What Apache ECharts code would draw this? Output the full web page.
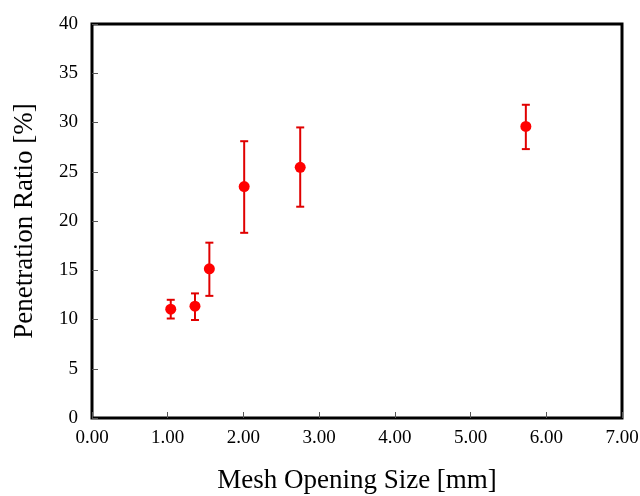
<!DOCTYPE html>
<html>
<head>
<meta charset="utf-8">
<script src="https://cdn.jsdelivr.net/npm/echarts@6/dist/echarts.min.js"></script>
<style>html,body{margin:0;padding:0;background:#fff}#c{width:640px;height:496px}</style>
</head>
<body>
<div id="c"></div>
<script>
var meshSize = [1.04, 1.36, 1.55, 2.01, 2.75, 5.73];
var ratio = [11.05, 11.35, 15.15, 23.5, 25.45, 29.6];
var errLow = [10.1, 9.95, 12.4, 18.8, 21.45, 27.3];
var errHigh = [12.0, 12.65, 17.8, 28.1, 29.5, 31.8];
var xTicks = [0, 1, 2, 3, 4, 5, 6, 7];
var yTicks = [0, 5, 10, 15, 20, 25, 30, 35, 40];

var font = '"Liberation Serif", "Times New Roman", serif';
var chart = echarts.init(document.getElementById('c'));
chart.setOption({
  animation: false,
  grid: {left: 92, right: 18, top: 24, bottom: 78, containLabel: false, outerBoundsMode: 'none',
         show: true, borderColor: '#000', borderWidth: 3, backgroundColor: 'transparent'},
  xAxis: {
    type: 'value', min: xTicks[0], max: xTicks[xTicks.length-1], interval: 1,
    name: 'Mesh Opening Size [mm]', nameLocation: 'middle', nameGap: 49,
    nameTextStyle: {fontFamily: font, fontSize: 27, color: '#000'},
    axisLine: {show: false},
    axisTick: {show: true, inside: true, length: 6, lineStyle: {color: '#555', width: 1}},
    splitLine: {show: false},
    axisLabel: {fontFamily: font, fontSize: 19, color: '#000', margin: 11, formatter: function(v){return v.toFixed(2);}}
  },
  yAxis: {
    type: 'value', min: yTicks[0], max: yTicks[yTicks.length-1], interval: 5,
    name: 'Penetration Ratio [%]', nameLocation: 'middle', nameGap: 54,
    nameTextStyle: {fontFamily: font, fontSize: 27, color: '#000'},
    axisLine: {show: false},
    axisTick: {show: true, inside: true, length: 6, lineStyle: {color: '#555', width: 1}},
    splitLine: {show: false},
    axisLabel: {fontFamily: font, fontSize: 19, color: '#000', margin: 14}
  },
  series: [
    {
      type: 'custom',
      data: meshSize.map(function(x, i){ return [x, errLow[i], errHigh[i]]; }),
      renderItem: function(params, api){
        var lo = api.coord([api.value(0), api.value(1)]);
        var hi = api.coord([api.value(0), api.value(2)]);
        var w = 4;
        var st = {stroke: '#e00000', lineWidth: 2};
        return {type: 'group', children: [
          {type: 'line', shape: {x1: lo[0], y1: lo[1], x2: hi[0], y2: hi[1]}, style: st},
          {type: 'line', shape: {x1: lo[0]-w, y1: lo[1], x2: lo[0]+w, y2: lo[1]}, style: st},
          {type: 'line', shape: {x1: hi[0]-w, y1: hi[1], x2: hi[0]+w, y2: hi[1]}, style: st}
        ]};
      },
      z: 2
    },
    {
      type: 'scatter',
      data: meshSize.map(function(x, i){ return [x, ratio[i]]; }),
      symbol: 'circle', symbolSize: 11,
      itemStyle: {color: '#ff0000', opacity: 1},
      z: 3
    }
  ]
});
</script>
</body>
</html>
